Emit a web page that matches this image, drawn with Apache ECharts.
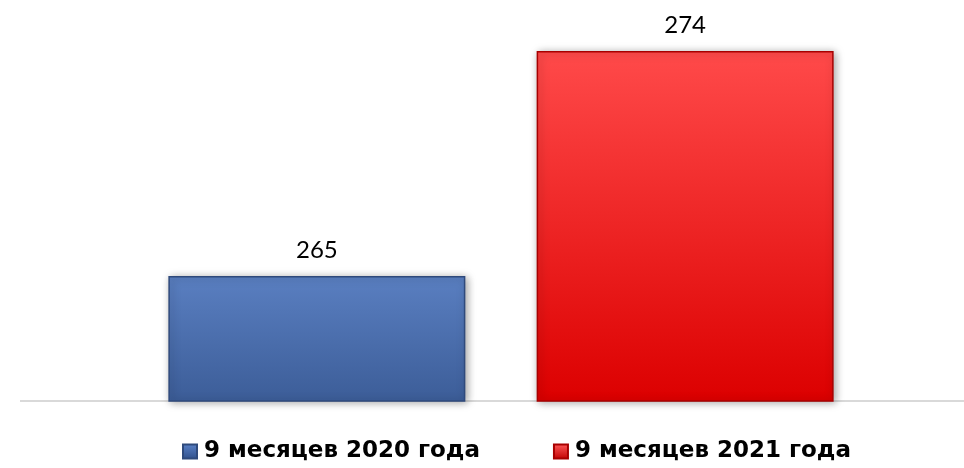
<!DOCTYPE html>
<html><head><meta charset="utf-8">
<script src="https://cdn.jsdelivr.net/npm/echarts@6/dist/echarts.min.js"></script>
<style>html,body{margin:0;padding:0;background:#fff}#c{width:964px;height:468px}</style>
</head><body><div id="c"></div>
<script>
const categories = [''];
const seriesNames = ['9 месяцев 2020 года', '9 месяцев 2021 года'];
const values2020 = [265];
const values2021 = [274];

const chart = echarts.init(document.getElementById('c'));
const grad = (a, b) => new echarts.graphic.LinearGradient(0, 0, 0, 1, [{offset: 0, color: a}, {offset: 1, color: b}]);
const labelStyle = {show: true, position: 'top', distance: 14, fontFamily: 'Lato, "Open Sans", sans-serif', fontSize: 24, color: '#000'};
chart.setOption({
  animation: false,
  grid: {left: 38, right: 0, top: 1, bottom: 67},
  graphic: [{type: 'rect', left: 20, top: 400, shape: {width: 20, height: 2}, style: {fill: '#d9d9d9'}, silent: true}],
  legend: {
    bottom: 0, left: 177, itemWidth: 14, itemHeight: 14, itemGap: 73,
    textStyle: {fontFamily: '"DejaVu Sans", sans-serif', fontWeight: 'bold', fontSize: 23, color: '#000', padding: [0,0,0,2]},
    data: [
      {name: seriesNames[0], icon: 'rect', itemStyle: {color: grad('#5b82c8', '#2f4f8a')}},
      {name: seriesNames[1], icon: 'rect', itemStyle: {color: grad('#ff5a5a', '#c00000')}}
    ]
  },
  xAxis: {type: 'category', data: categories, axisLine: {lineStyle: {color: '#d9d9d9', width: 2}}, axisTick: {show: false}, axisLabel: {show: false}},
  yAxis: {type: 'value', min: 260, max: 276, show: false, splitLine: {show: false}},
  series: [
    {name: seriesNames[0], type: 'bar', data: values2020, barWidth: 297, barGap: '24%',
     itemStyle: {color: grad('#5a7fc1', '#3c5d98'), borderColor: '#2f4a7c', borderWidth: 1.5, shadowColor: 'rgba(0,0,0,0.35)', shadowBlur: 8, shadowOffsetX: 2, shadowOffsetY: 1},
     label: labelStyle},
    {name: seriesNames[1], type: 'bar', data: values2021, barWidth: 297,
     itemStyle: {color: grad('#ff4a4a', '#dc0000'), borderColor: '#a80000', borderWidth: 1.5, shadowColor: 'rgba(0,0,0,0.35)', shadowBlur: 8, shadowOffsetX: 2, shadowOffsetY: 1},
     label: labelStyle}
  ]
});
</script></body></html>
